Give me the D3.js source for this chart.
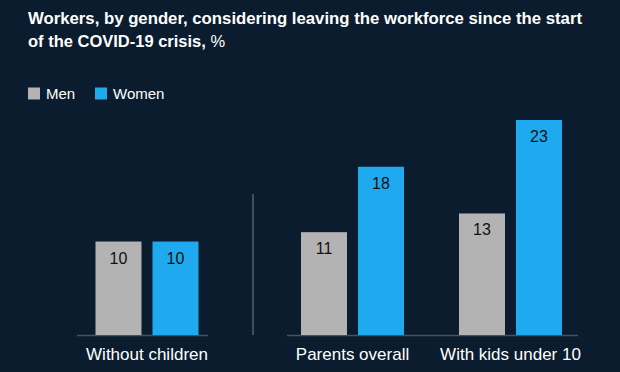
<!DOCTYPE html>
<html>
<head>
<meta charset="utf-8">
<script src="https://cdn.jsdelivr.net/npm/d3@7"></script>
<style>
  body { margin: 0; background: #0a1c2d; }
  svg { display: block; font-family: "Liberation Sans", Arial, sans-serif; }
</style>
</head>
<body>
<div id="container"></div>
<script>
let w = 620;
let h = 372;

// data
let groups = ["Without children", "Parents overall", "With kids under 10"];
let series = ["Men", "Women"];
let menValues = [10, 11, 13];
let womenValues = [10, 18, 23];
let colors = ["#b3b3b3", "#1fa9ee"];

let viz = d3.select("#container")
  .append("svg")
    .attr("width", w)
    .attr("height", h)
    .style("background-color", "#0a1c2d")
;

// title
viz.append("text")
    .attr("x", 28)
    .attr("y", 23.5)
    .attr("fill", "#ffffff")
    .attr("font-size", 16.5)
    .attr("font-weight", "bold")
    .attr("textLength", 554)
    .attr("lengthAdjust", "spacingAndGlyphs")
    .text("Workers, by gender, considering leaving the workforce since the start")
;
let title2 = viz.append("text")
    .attr("x", 28)
    .attr("y", 47)
    .attr("fill", "#ffffff")
    .attr("font-size", 16.5)
;
title2.append("tspan").attr("font-weight", "bold").text("of the COVID-19 crisis,");
title2.append("tspan").text(" %");

// legend
let legend = viz.selectAll(".legend").data(series).enter()
  .append("g")
    .attr("class", "legend")
    .attr("transform", function(d, i){ return "translate(" + [28, 95][i] + ",87.5)"; })
;
legend.append("rect")
    .attr("width", 12)
    .attr("height", 12)
    .attr("fill", function(d, i){ return colors[i]; });
legend.append("text")
    .attr("x", 18)
    .attr("y", 11.5)
    .attr("fill", "#ffffff")
    .attr("font-size", 15)
    .text(function(d){ return d; });

// scales
let baseline = 335;
let yScale = d3.scaleLinear().domain([0, 23]).range([baseline, 120]);

// left panel holds one group, right panel the two parent groups
let xLeft = d3.scaleBand().domain([groups[0]]).range([95.5, 198.5]);
let xRight = d3.scaleBand().domain(groups.slice(1)).range([273.5, 589.5]);

function groupCentre(g){
  if (g == groups[0]) return xLeft(g) + xLeft.bandwidth()/2;
  return xRight(g) + xRight.bandwidth()/2;
}

// men / women inside each group
let xInner = d3.scaleBand().domain(series).range([-51.5, 51.5]).paddingInner(11/57);

let rows = groups.map(function(g, i){
  return { group: g, values: [menValues[i], womenValues[i]] };
});

// baselines
viz.append("line")
    .attr("x1", 77).attr("x2", 208)
    .attr("y1", baseline + 0.5).attr("y2", baseline + 0.5)
    .attr("stroke", "#44535f").attr("stroke-width", 1.5);
viz.append("line")
    .attr("x1", 287).attr("x2", 578)
    .attr("y1", baseline + 0.5).attr("y2", baseline + 0.5)
    .attr("stroke", "#44535f").attr("stroke-width", 1.5);
// divider
viz.append("line")
    .attr("x1", 253).attr("x2", 253)
    .attr("y1", 194).attr("y2", baseline)
    .attr("stroke", "#76838f").attr("stroke-width", 1);

let datagroups = viz.selectAll(".datagroup").data(rows).enter()
  .append("g")
    .attr("class", "datagroup")
    .attr("transform", function(d){ return "translate(" + groupCentre(d.group) + ",0)"; })
;

let bars = datagroups.selectAll(".bar").data(function(d){
    return d.values.map(function(v, i){ return { s: series[i], v: v, i: i }; });
  }).enter()
  .append("g")
    .attr("class", "bar");

bars.append("rect")
    .attr("x", function(d){ return xInner(d.s); })
    .attr("y", function(d){ return yScale(d.v); })
    .attr("width", xInner.bandwidth())
    .attr("height", function(d){ return baseline - yScale(d.v); })
    .attr("fill", function(d){ return colors[d.i]; })
;

bars.append("text")
    .attr("x", function(d){ return xInner(d.s) + xInner.bandwidth()/2; })
    .attr("y", function(d){ return yScale(d.v) + 22; })
    .attr("text-anchor", "middle")
    .attr("fill", "#111111")
    .attr("font-size", 16)
    .text(function(d){ return d.v; })
;

datagroups.append("text")
    .attr("x", 0)
    .attr("y", 360)
    .attr("text-anchor", "middle")
    .attr("fill", "#ffffff")
    .attr("font-size", 17)
    .text(function(d){ return d.group; })
;
</script>
</body>
</html>
